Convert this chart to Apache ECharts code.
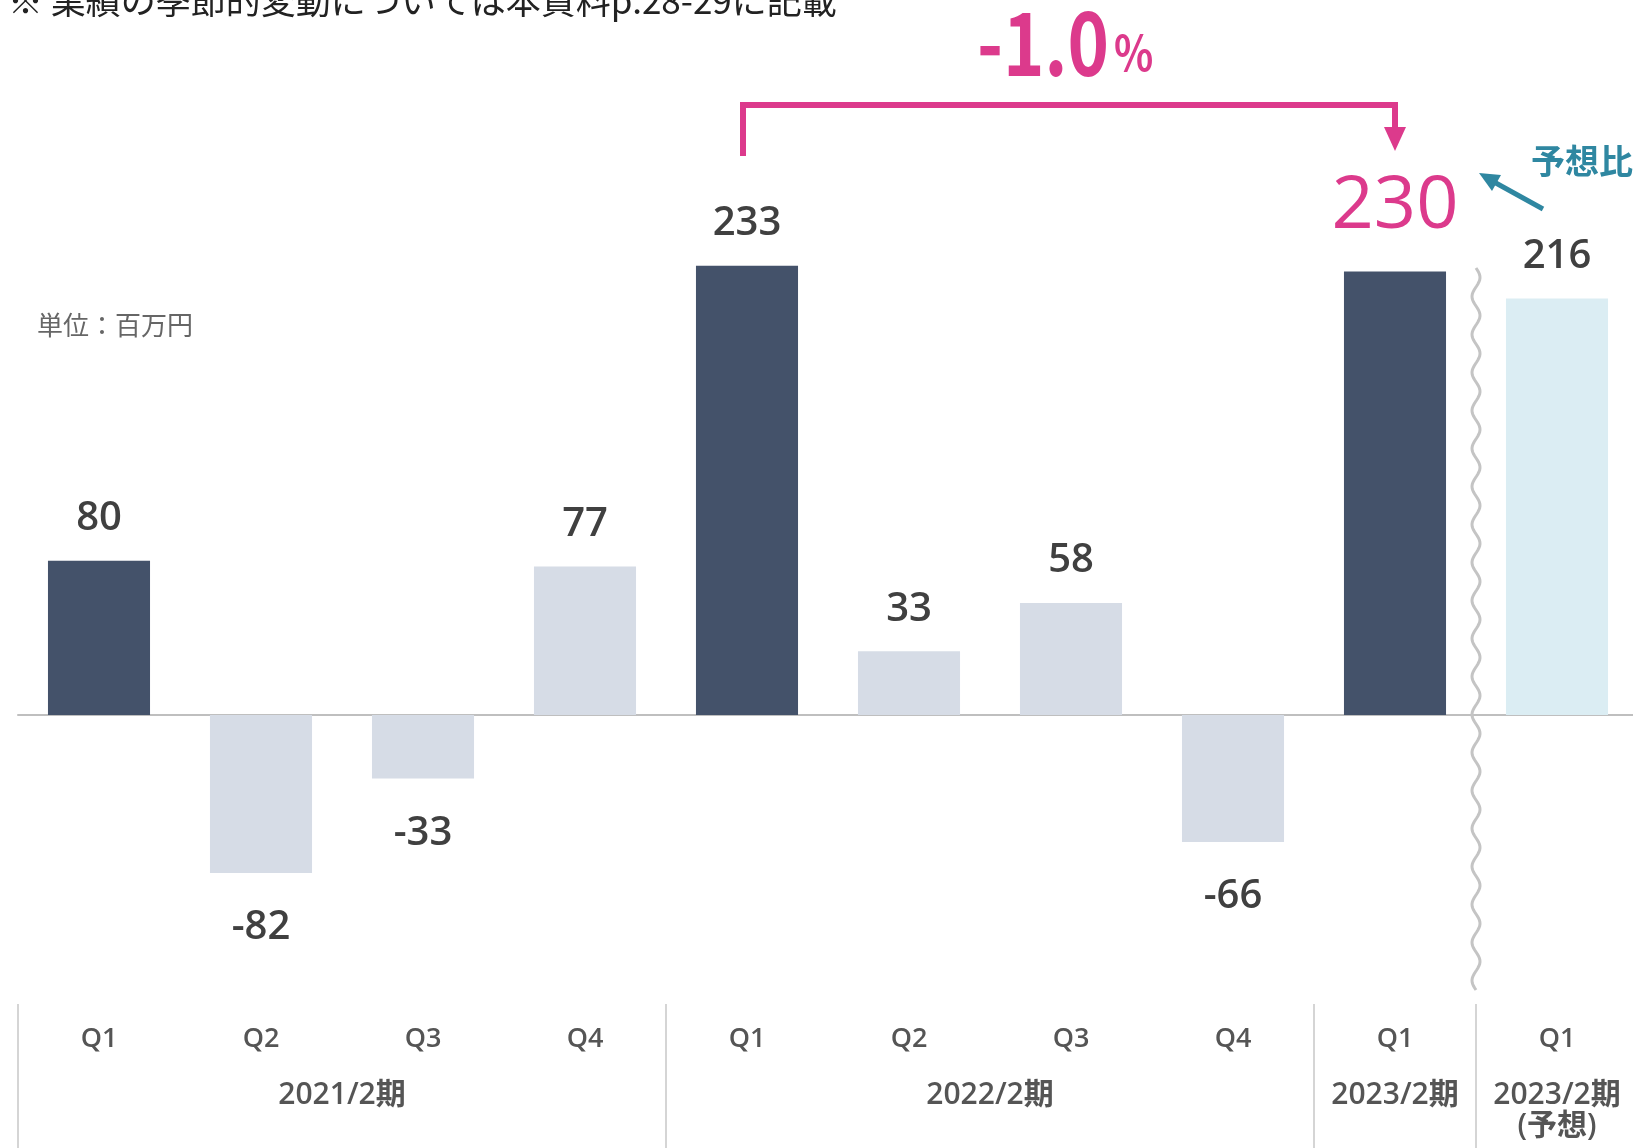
<!DOCTYPE html>
<html>
<head>
<meta charset="utf-8">
<script src="https://cdn.jsdelivr.net/npm/echarts@6/dist/echarts.min.js"></script>
<style>
html, body { margin: 0; padding: 0; background: #fff; }
#chart { width: 1633px; height: 1148px; }
</style>
</head>
<body>
<div id="chart"></div>
<script>
// data (unit: 百万円)
const quarters = ['Q1', 'Q2', 'Q3', 'Q4', 'Q1', 'Q2', 'Q3', 'Q4', 'Q1', 'Q1'];
const values = [80, -82, -33, 77, 233, 33, 58, -66, 230, 216];
const isForecast = [false, false, false, false, false, false, false, false, false, true];
const periodNames = ['2021/2期', '2022/2期', '2023/2期', '2023/2期\n(予想)'];
const periodFirst = [0, 4, 8, 9];
const periodLast = [3, 7, 8, 9];
const changeFrom = 4, changeTo = 8;
const changeText = '-1.0';

const FONT = "'Noto Sans CJK JP', 'Noto Sans', sans-serif";
const NUMFONT = "'Open Sans', 'Noto Sans CJK JP', sans-serif";
const DARK = '#44526a', LIGHT = '#d6dce6', FORE = '#dbedf3';
const PINK = '#dc3a8c', TEAL = '#2f87a1', TXT = '#404040', AXTXT = '#555555';

const chart = echarts.init(document.getElementById('chart'));

const barData = values.map((v, i) => {
  const item = {
    value: v,
    itemStyle: { color: isForecast[i] ? FORE : (quarters[i] === 'Q1' ? DARK : LIGHT) },
    label: { position: v < 0 ? 'bottom' : 'top', distance: v < 0 ? 35 : 22 }
  };
  if (i === changeTo) {
    item.label = { position: 'top', distance: 28, fontSize: 74, lineHeight: 74, color: PINK, fontWeight: 500 };
  }
  return item;
});

chart.setOption({
  animation: false,
  grid: { left: 18, width: 1620, top: 233, height: 771, outerBoundsMode: 'none', containLabel: false },
  xAxis: [
    {
      type: 'category', data: quarters,
      axisLine: { onZero: true, lineStyle: { color: '#bfbfbf', width: 2 } },
      axisTick: { show: false }, axisLabel: { show: false }
    },
    {
      type: 'category', data: quarters, position: 'bottom',
      axisLine: { show: false, onZero: false },
      axisTick: {
        show: true, length: 145, lineStyle: { color: '#c8c8c8', width: 1.5 },
        interval: (i) => periodFirst.indexOf(i) >= 0
      },
      axisLabel: { interval: 0, margin: 20, fontSize: 27, lineHeight: 30, color: AXTXT, fontFamily: NUMFONT, fontWeight: 600 }
    }
  ],
  yAxis: { type: 'value', min: -150, max: 250, show: false },
  series: [{
    type: 'bar', data: barData, barWidth: '63%',
    label: { show: true, color: TXT, fontSize: 40, lineHeight: 40, fontFamily: NUMFONT, fontWeight: 600 }
  }]
});

// annotations
const px = (i, v) => chart.convertToPixel({ seriesIndex: 0 }, [i, v]);
const band = px(1, 0)[0] - px(0, 0)[0];
const xa = px(changeFrom, 0)[0] - 4, xb = px(changeTo, 0)[0];
const waveX = px(9, 0)[0] - band / 2;

const wavePts = [];
for (let y = 268; y <= 990; y += 2) {
  wavePts.push([waveX + 4 * Math.sin((y - 268) / 38 * 2 * Math.PI), y]);
}

function txt(x, y, text, size, color, align, valign, weight, extra, family) {
  return {
    type: 'text', x: x, y: y, z: 10,
    style: Object.assign({
      text: text, fill: color, fontSize: size, fontFamily: family || FONT, fontWeight: weight || 'normal',
      align: align, verticalAlign: valign, textAlign: align, textVerticalAlign: valign
    }, extra || {})
  };
}

const pct = txt(1109, 43, changeText, 88, PINK, 'right', 'middle', 'bold');
pct.scaleX = 0.8;
const pctSign = txt(1114, 53, '%', 48, PINK, 'left', 'middle', 'bold');
pctSign.scaleX = 0.85;

const graphics = [
  txt(8, 1, '※ 業績の季節的変動については本資料p.28-29に記載', 35, '#222', 'left', 'middle'),
  txt(37, 325, '単位：百万円', 26, '#666', 'left', 'middle'),
  {
    type: 'polyline', z: 10,
    shape: { points: [[xa, 156], [xa, 105], [xb, 105], [xb, 130]] },
    style: { stroke: PINK, lineWidth: 6, fill: null }
  },
  {
    type: 'polygon', z: 10,
    shape: { points: [[xb - 11, 127], [xb + 11, 127], [xb, 151]] },
    style: { fill: PINK }
  },
  pct,
  pctSign,
  txt(1531, 161, '予想比', 34, TEAL, 'left', 'middle', 'bold'),
  {
    type: 'line', z: 10,
    shape: { x1: 1543, y1: 209, x2: 1494, y2: 182 },
    style: { stroke: TEAL, lineWidth: 5 }
  },
  {
    type: 'polygon', z: 10,
    shape: { points: [[1479, 173], [1501, 175], [1492, 191]] },
    style: { fill: TEAL }
  },
  {
    type: 'polyline', z: 10,
    shape: { points: wavePts },
    style: { stroke: '#c4c4c4', lineWidth: 3, fill: null }
  }
];

periodNames.forEach((name, k) => {
  const cx = (px(periodFirst[k], 0)[0] + px(periodLast[k], 0)[0]) / 2;
  graphics.push(txt(cx, 1080, name, 30, AXTXT, 'center', 'top', 600, { lineHeight: 31 }, NUMFONT));
});

chart.setOption({ graphic: graphics });
</script>
</body>
</html>
